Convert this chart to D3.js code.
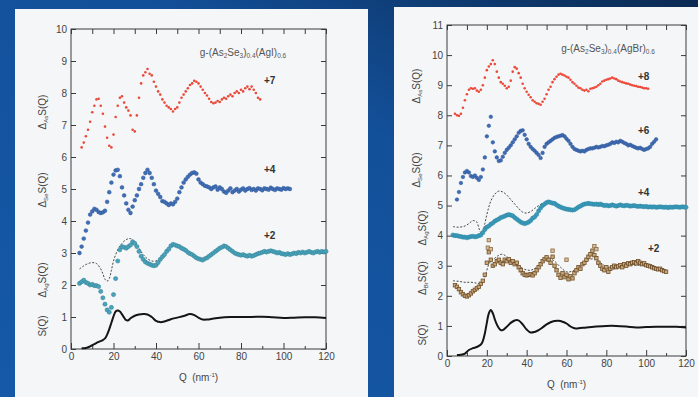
<!DOCTYPE html>
<html>
<head>
<meta charset="utf-8">
<script src="https://cdn.jsdelivr.net/npm/d3@7"></script>
<style>
body { margin: 0; background: #1456a2; }
svg { display: block; }
text { font-family: "Liberation Sans", Arial, sans-serif; }
</style>
</head>
<body>
<script>
// ---- data (plotted values, offsets already added) ----
// left panel : g-(As2Se3)0.4(AgI)0.6
const leftAsStart = 5;
const leftAs = [6.3,6.45,6.65,6.85,7.1,7.4,7.6,7.8,7.82,7.6,7.35,6.95,6.6,6.35,6.3,6.7,7.25,7.6,7.85,7.9,
  7.7,7.55,7.45,7.3,6.85,6.8,7.3,7.85,8.3,8.55,8.65,8.75,8.6,8.55,8.35,8.2,8.05,7.95,7.8,7.7,
  7.6,7.55,7.5,7.42,7.5,7.55,7.7,7.85,7.95,8.05,8.15,8.25,8.3,8.38,8.35,8.3,8.2,8.1,8.0,7.92,
  7.82,7.72,7.68,7.7,7.75,7.72,7.8,7.85,7.82,7.9,7.95,7.9,8.0,8.05,8.0,8.1,8.05,8.15,8.2,8.12,
  8.2,8.1,8.0,7.85,7.8];
const leftSeStart = 4;
const leftSe = [3.0,3.2,3.45,3.7,3.95,4.2,4.3,4.38,4.35,4.28,4.25,4.27,4.32,4.6,4.9,5.2,5.45,5.58,5.6,5.4,
  5.05,4.8,4.55,4.35,4.25,4.45,4.65,4.8,5.0,5.15,5.35,5.5,5.6,5.5,5.35,5.15,4.95,4.85,4.75,4.62,
  4.6,4.55,4.5,4.55,4.52,4.6,4.7,4.9,5.05,5.2,5.3,5.38,5.45,5.5,5.52,5.48,5.3,5.2,5.15,5.1,
  5.08,5.05,5.0,5.05,5.08,4.98,5.05,5.0,4.92,4.88,4.95,5.02,4.9,4.95,5.0,4.92,4.98,5.02,4.95,5.0,
  5.03,4.97,5.0,4.95,5.02,5.0,4.96,5.02,5.0,4.98,5.04,5.0,4.97,5.02,5.0,4.98,5.03,5.0,5.02,5.0];
const leftAgStart = 4;
const leftAg = [2.05,2.1,2.15,2.08,2.05,2.0,2.02,1.98,1.98,1.95,1.8,1.6,1.4,1.22,1.15,1.3,1.7,2.2,2.75,3.1,
  3.2,3.18,3.15,3.2,3.25,3.35,3.3,3.2,3.05,2.9,2.8,2.72,2.68,2.65,2.62,2.6,2.62,2.7,2.8,2.88,
  2.95,3.05,3.12,3.22,3.27,3.25,3.22,3.2,3.15,3.12,3.08,3.02,2.98,2.95,2.9,2.85,2.82,2.8,2.78,2.82,
  2.85,2.9,2.95,3.0,3.05,3.1,3.15,3.18,3.22,3.2,3.15,3.1,3.05,3.0,2.97,2.95,2.93,2.95,2.92,2.9,
  2.93,2.9,2.92,2.95,2.98,3.0,3.02,3.05,3.03,3.05,3.07,3.05,3.03,3.0,3.02,2.98,2.97,2.95,2.98,2.95,
  2.97,3.0,2.98,3.02,3.0,3.03,3.0,3.02,3.05,3.02,3.0,3.03,3.05,3.02,3.05,3.03,3.05];
const leftAgModelQ = [4,6,8,10,12,14,15,16,17,18,19,20,22,24,26,28,30,32,34,36,38,40,42,44,46];
const leftAgModel = [2.5,2.6,2.67,2.7,2.67,2.5,2.35,2.18,2.12,2.2,2.45,2.75,3.1,3.3,3.42,3.45,3.35,3.15,2.95,2.82,2.75,2.75,2.85,2.95,3.1];
const leftSQ_Q = [5,7,9,11,13,15,16,17,18,19,20,21,22,23,24,25,26,27,28,30,32,34,36,38,40,42,44,47,50,53,56,58,60,62,64,67,70,75,80,85,90,95,100,105,110,115,120];
const leftSQ = [0.02,0.03,0.08,0.15,0.22,0.28,0.33,0.45,0.62,0.82,1.02,1.17,1.2,1.17,1.08,0.98,0.9,0.9,0.96,1.04,1.08,1.09,1.08,1.0,0.88,0.84,0.86,0.93,0.98,1.03,1.09,1.06,0.98,0.92,0.92,0.95,0.98,1.0,1.0,1.0,1.01,0.99,0.97,0.98,0.99,0.99,0.97];

// right panel : g-(As2Se3)0.4(AgBr)0.6
const rightAsStart = 4;
const rightAs = [8.05,8.0,7.98,8.05,8.25,8.5,8.7,8.85,8.9,8.88,8.9,8.82,8.78,8.85,9.0,9.25,9.5,9.62,9.7,9.83,
  9.7,9.45,9.25,9.1,9.05,8.98,8.9,8.95,9.15,9.45,9.6,9.55,9.4,9.25,9.05,8.9,8.78,8.68,8.6,8.5,
  8.45,8.4,8.38,8.35,8.45,8.55,8.7,8.85,8.95,9.1,9.2,9.28,9.35,9.38,9.35,9.32,9.28,9.25,9.18,9.1,
  9.05,8.98,8.92,8.9,8.85,8.82,8.85,8.8,8.88,8.9,8.92,8.95,9.0,9.05,9.12,9.15,9.18,9.2,9.22,9.25,
  9.22,9.2,9.15,9.12,9.1,9.08,9.06,9.05,9.02,9.0,8.98,8.97,8.95,8.94,8.92,8.9,8.9,8.88];
const rightSeStart = 5;
const rightSe = [5.2,5.45,5.75,5.95,6.1,6.15,6.1,5.98,5.95,6.0,5.92,5.85,5.95,6.2,6.6,7.3,7.65,7.95,7.1,6.8,
  6.6,6.48,6.5,6.62,6.75,6.85,6.92,7.0,7.1,7.2,7.3,7.42,7.48,7.5,7.35,7.2,7.05,6.95,6.88,6.82,
  6.75,6.68,6.58,6.75,6.95,7.05,7.1,7.15,7.2,7.25,7.28,7.3,7.32,7.34,7.3,7.22,7.15,7.05,6.95,6.88,
  6.85,6.82,6.8,6.82,6.8,6.85,6.88,6.9,6.9,6.92,6.95,6.93,6.95,6.98,6.97,7.0,7.02,7.05,7.1,7.08,
  7.12,7.1,7.15,7.12,7.08,7.05,7.0,7.02,6.98,6.95,6.92,6.9,6.92,6.88,6.85,6.88,6.9,6.95,7.05,7.12,7.2];
const rightAgStart = 3;
const rightAg = [4.02,4.0,4.0,3.98,3.97,3.95,3.95,3.93,3.95,3.97,3.98,3.96,3.97,4.0,4.02,4.1,4.2,4.28,4.32,4.38,
  4.42,4.48,4.52,4.55,4.6,4.62,4.65,4.68,4.7,4.68,4.66,4.6,4.55,4.5,4.45,4.42,4.4,4.42,4.45,4.5,
  4.58,4.62,4.7,4.82,4.92,5.0,5.05,5.1,5.12,5.1,5.08,5.07,5.02,4.98,4.95,4.92,4.9,4.88,4.87,4.86,
  4.85,4.86,4.9,4.95,4.98,5.02,5.05,5.06,5.07,5.06,5.05,5.04,5.05,5.03,5.05,5.02,5.0,5.01,4.99,5.0,
  5.02,5.0,4.98,5.0,5.02,5.0,4.99,5.01,5.0,4.98,4.99,5.0,4.98,4.97,4.98,4.97,4.96,4.97,4.95,4.96,
  4.95,4.96,4.94,4.95,4.96,4.95,4.94,4.95,4.93,4.95,4.94,4.95,4.96,4.95,4.94,4.96,4.95,4.94];
const rightAgModelQ = [3,6,9,11,13,15,16,17,18,19,20,21,22,24,26,28,30,32,34,36,38,40,42,44,46,48];
const rightAgModel = [4.3,4.28,4.32,4.4,4.5,4.45,4.25,4.1,4.15,4.4,4.7,4.95,5.15,5.38,5.48,5.45,5.35,5.2,5.05,4.9,4.78,4.75,4.8,4.9,5.0,5.08];
const rightBrStart = 4;
const rightBr = [2.35,2.3,2.22,2.12,2.05,2.0,1.98,2.02,2.08,2.15,2.2,2.25,2.3,2.4,2.5,2.7,3.1,3.45,3.2,3.0,
  3.05,3.15,3.2,3.1,3.05,3.2,3.15,3.22,3.1,3.15,3.05,3.1,2.95,2.85,2.75,2.7,2.68,2.7,2.72,2.68,
  2.75,2.85,2.95,3.05,3.15,3.22,3.28,3.2,3.1,3.3,3.0,2.85,2.7,2.6,2.75,2.62,2.7,2.55,2.65,2.58,
  2.75,2.85,2.95,2.9,3.05,3.1,3.2,3.3,3.38,3.5,3.35,3.25,3.1,3.0,2.9,2.85,2.95,2.8,2.9,2.95,
  3.0,2.95,2.98,3.02,2.95,3.05,3.0,3.08,3.05,3.1,3.12,3.08,3.15,3.1,3.05,3.08,3.02,3.0,2.98,2.95,
  2.92,2.9,2.88,2.9,2.85,2.82,2.8];
const rightBrExtraQ = [20.5,21,22,53,60,74,75];
const rightBrExtra = [3.6,3.85,3.55,3.5,3.2,3.65,3.55];
const rightBrModelQ = [3,6,9,12,15,17,18,19,20,21,22,24,26,28,30,33,36,39,42,45,48,51,54,57,60,63,66,69,72,75,78,81,84,87,90,95,100];
const rightBrModel = [2.5,2.48,2.45,2.45,2.42,2.4,2.45,2.6,2.85,3.05,3.15,3.25,3.35,3.38,3.3,3.15,3.0,2.88,2.85,2.95,3.15,3.25,3.15,2.95,2.8,2.82,2.95,3.1,3.22,3.2,3.05,2.92,2.9,2.95,3.0,3.02,3.0];
const rightSQ_Q = [5,7,9,11,13,15,17,18,19,20,21,22,23,24,25,26,27,28,30,32,34,35,36,38,40,42,44,46,48,50,52,54,56,58,60,62,64,66,70,75,80,85,90,95,100,105,110,115,120];
const rightSQ = [0.03,0.04,0.08,0.2,0.26,0.3,0.38,0.5,0.75,1.1,1.42,1.53,1.42,1.22,1.05,0.93,0.86,0.86,0.97,1.1,1.18,1.2,1.18,1.05,0.88,0.78,0.8,0.86,0.95,1.05,1.12,1.16,1.17,1.14,1.08,0.98,0.92,0.92,0.95,0.98,1.0,1.0,0.98,0.95,0.96,0.97,0.97,0.97,0.95];

const qMajor = [0,20,40,60,80,100,120];
const qMinor = [10,30,50,70,90,110];

// ---- svg + background ----
const W = 698, H = 397;
const svg = d3.select("body").append("svg").attr("width", W).attr("height", H);
const defs = svg.append("defs");
const grad = defs.append("linearGradient").attr("id", "bg")
  .attr("x1", "0").attr("y1", "1").attr("x2", "1").attr("y2", "0");
grad.append("stop").attr("offset", "0").attr("stop-color", "#1559a8");
grad.append("stop").attr("offset", "0.6").attr("stop-color", "#13509a");
grad.append("stop").attr("offset", "1").attr("stop-color", "#0b2a52");
svg.append("rect").attr("width", W).attr("height", H).attr("fill", "url(#bg)");

// white slides
svg.append("rect").attr("x", 15).attr("y", 9).attr("width", 353).attr("height", H - 9).attr("fill", "#f5f6f8");
svg.append("rect").attr("x", 394).attr("y", 7).attr("width", W - 394).attr("height", H - 7).attr("fill", "#f5f6f8");

const ink = "#3a3a3a";

function seq(start, vals) { return vals.map((v, i) => [start + i, v]); }
function pairs(qs, vals) { return qs.map((q, i) => [q, vals[i]]); }

function dessinerPanneau(cfg) {
  const x = d3.scaleLinear().domain([0, 120]).range([cfg.x0, cfg.x1]);
  const y = d3.scaleLinear().domain([0, cfg.ymax]).range([cfg.y0, cfg.y1]);
  const g = svg.append("g");

  const styleAxe = sel => {
    sel.select(".domain").remove();
    sel.selectAll(".tick line").attr("stroke", ink);
    sel.selectAll(".tick text").attr("fill", "#444").style("font-size", "10px");
  };

  // axes with inward ticks
  g.append("g").attr("transform", `translate(0,${cfg.y0})`)
    .call(d3.axisBottom(x).tickValues(qMajor).tickSizeInner(-6).tickSizeOuter(0).tickPadding(4))
    .call(styleAxe);
  g.append("g").attr("transform", `translate(0,${cfg.y0})`)
    .call(d3.axisBottom(x).tickValues(qMinor).tickSizeInner(-3).tickSizeOuter(0).tickFormat(""))
    .call(styleAxe);
  g.append("g").attr("transform", `translate(0,${cfg.y1})`)
    .call(d3.axisTop(x).tickValues(qMajor.concat(qMinor)).tickSizeInner(-5).tickSizeOuter(0).tickFormat(""))
    .call(styleAxe);
  g.append("g").attr("transform", `translate(${cfg.x0},0)`)
    .call(d3.axisLeft(y).ticks(cfg.ymax).tickSizeInner(-5).tickSizeOuter(0).tickPadding(4))
    .call(styleAxe);
  g.append("g").attr("transform", `translate(${cfg.x1},0)`)
    .call(d3.axisRight(y).ticks(cfg.ymax).tickSizeInner(-5).tickSizeOuter(0).tickFormat(""))
    .call(styleAxe);

  g.append("rect").attr("x", cfg.x0).attr("y", cfg.y1)
    .attr("width", cfg.x1 - cfg.x0).attr("height", cfg.y0 - cfg.y1)
    .attr("fill", "none").attr("stroke", ink).attr("stroke-width", 1);

  // x title
  const t = g.append("text").attr("x", (cfg.x0 + cfg.x1) / 2).attr("y", cfg.y0 + 32)
    .attr("text-anchor", "middle").attr("fill", "#444").style("font-size", "10px");
  t.append("tspan").text("Q\u00a0\u00a0(nm");
  t.append("tspan").attr("dy", -4).style("font-size", "6px").text("-1");
  t.append("tspan").attr("dy", 4).text(")");

  // panel title
  const ti = g.append("text").attr("x", cfg.titleX).attr("y", cfg.titleY)
    .attr("text-anchor", "middle").attr("fill", "#555").style("font-size", "10px");
  cfg.title.forEach(p => {
    if (p.sub) ti.append("tspan").attr("dy", 2).style("font-size", "6.5px").text(p.sub);
    else ti.append("tspan").attr("dy", p.back ? -2 : 0).text(p.t);
  });

  // y labels (rotated)
  cfg.ylabels.forEach(l => {
    const tx = g.append("text").attr("transform", `translate(${l.x},${l.y}) rotate(-90)`)
      .attr("text-anchor", "middle").attr("fill", "#444").style("font-size", "10px");
    if (l.sub) {
      tx.append("tspan").text("\u0394");
      tx.append("tspan").attr("dy", 2).style("font-size", "6px").text(l.sub);
      tx.append("tspan").attr("dy", -2).text("S(Q)");
    } else {
      tx.text("S(Q)");
    }
  });

  // offset labels
  cfg.offsets.forEach(o => {
    g.append("text").attr("x", o.x).attr("y", o.y).attr("fill", "#333")
      .style("font-size", "10px").style("font-weight", "bold").text(o.t);
  });

  return { g, x, y };
}

function ligne(p, data, stroke, width, dash) {
  p.g.append("path").datum(data)
    .attr("d", d3.line().x(d => p.x(d[0])).y(d => p.y(d[1])).curve(d3.curveCatmullRom))
    .attr("fill", "none").attr("stroke", stroke).attr("stroke-width", width)
    .attr("stroke-dasharray", dash || null);
}

function points(p, data, r, fill, stroke) {
  p.g.append("g").selectAll("circle").data(data).join("circle")
    .attr("cx", d => p.x(d[0])).attr("cy", d => p.y(d[1])).attr("r", r)
    .attr("fill", fill).attr("stroke", stroke || "none").attr("stroke-width", 0.5);
}

function carres(p, data, s, fill, stroke) {
  p.g.append("g").selectAll("rect").data(data).join("rect")
    .attr("x", d => p.x(d[0]) - s / 2).attr("y", d => p.y(d[1]) - s / 2)
    .attr("width", s).attr("height", s)
    .attr("fill", fill).attr("stroke", stroke).attr("stroke-width", 0.8);
}

// ---- left panel ----
const gauche = dessinerPanneau({
  x0: 71, x1: 326, y0: 349, y1: 29, ymax: 10,
  titleX: 243, titleY: 56,
  title: [{ t: "g-(As" }, { sub: "2" }, { t: "Se", back: true }, { sub: "3" }, { t: ")", back: true },
          { sub: "0.4" }, { t: "(AgI)", back: true }, { sub: "0.6" }],
  ylabels: [{ x: 46, y: 112, sub: "As" }, { x: 46, y: 190, sub: "Se" }, { x: 46, y: 280, sub: "Ag" }, { x: 46, y: 326 }],
  offsets: [{ x: 264, y: 84, t: "+7" }, { x: 264, y: 173, t: "+4" }, { x: 264, y: 239, t: "+2" }]
});
ligne(gauche, pairs(leftAgModelQ, leftAgModel), "#333", 0.9, "2,1.6");
points(gauche, seq(leftAgStart, leftAg), 2.1, "#4aa3b8", "#2d7f96");
points(gauche, seq(leftSeStart, leftSe), 1.9, "#3f6fb5", "#2e5596");
points(gauche, seq(leftAsStart, leftAs), 1.3, "#ea4a3a");
ligne(gauche, pairs(leftSQ_Q, leftSQ), "#151515", 2);

// ---- right panel ----
const droite = dessinerPanneau({
  x0: 447, x1: 686, y0: 356, y1: 25, ymax: 11,
  titleX: 608, titleY: 52,
  title: [{ t: "g-(As" }, { sub: "2" }, { t: "Se", back: true }, { sub: "3" }, { t: ")", back: true },
          { sub: "0.4" }, { t: "(AgBr)", back: true }, { sub: "0.6" }],
  ylabels: [{ x: 420, y: 86, sub: "As" }, { x: 420, y: 170, sub: "Se" }, { x: 426, y: 228, sub: "Ag" },
            { x: 426, y: 278, sub: "Br" }, { x: 426, y: 335 }],
  offsets: [{ x: 638, y: 80, t: "+8" }, { x: 638, y: 134, t: "+6" }, { x: 638, y: 196, t: "+4" }, { x: 648, y: 252, t: "+2" }]
});
ligne(droite, pairs(rightAgModelQ, rightAgModel), "#333", 0.9, "2,1.6");
ligne(droite, pairs(rightBrModelQ, rightBrModel), "#333", 0.9, "2,1.6");
carres(droite, seq(rightBrStart, rightBr), 3.4, "#c9a878", "#6e4e2a");
carres(droite, pairs(rightBrExtraQ, rightBrExtra), 3.4, "#d8c09a", "#8a6a44");
points(droite, seq(rightAgStart, rightAg), 2.1, "#3a9bbb", "#27819f");
points(droite, seq(rightSeStart, rightSe), 1.8, "#3d6cb4", "#2d5395");
points(droite, seq(rightAsStart, rightAs), 1.3, "#ea4a3a");
ligne(droite, pairs(rightSQ_Q, rightSQ), "#151515", 2);
</script>
</body>
</html>
